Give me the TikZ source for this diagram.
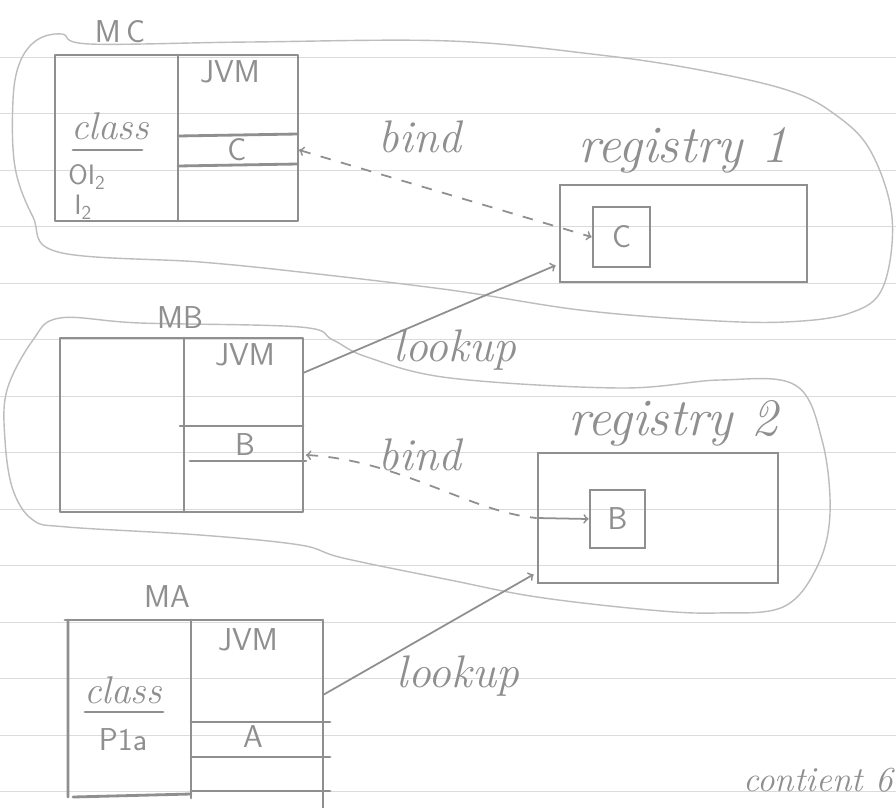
\documentclass[tikz,border=0pt]{standalone}
\usetikzlibrary{arrows,calc}
\definecolor{PencilClr}{rgb}{0.56,0.56,0.56}
\definecolor{BlobClr}{rgb}{0.74,0.74,0.74}
\definecolor{RuleClr}{rgb}{0.86,0.86,0.86}

\begin{document}
\begin{tikzpicture}[x=0.02cm,y=-0.02cm,>=to,
  pencil/.style={line width=1.6pt,color=PencilClr,line cap=round,line join=round},
  blob/.style={line width=0.8pt,color=BlobClr},
  rule/.style={line width=0.4pt,color=RuleClr},
  hand/.style={text=PencilClr,inner sep=0pt,font=\fontsize{26}{28}\selectfont\itshape},
  caps/.style={text=PencilClr,inner sep=0pt,font=\fontsize{18}{20}\selectfont\sffamily},
  regbox/.style={draw=PencilClr,line width=1.6pt,inner sep=0pt},
  slot/.style={regbox,text=PencilClr,font=\fontsize{18}{20}\selectfont\sffamily},
  link/.style={line width=1pt,color=PencilClr},
  bindlink/.style={link,dash pattern=on 6pt off 6pt}]

\fill[white] (0,0) rectangle (896,808);
\useasboundingbox (0,0) rectangle (896,808);

% ruled paper
\foreach \k in {0,...,13}
  \draw[rule] (0,{57+56.5*\k}) -- (896,{57+56.5*\k});

% blobs
\draw[blob] plot[smooth cycle,tension=0.6] coordinates {
  (62,34) (37,40) (20,62) (13,100) (15,167) (33,217) (58,252) (200,262)
  (300,272) (450,290) (580,310) (700,320) (785,322) (850,313) (883,287)
  (892,217) (870,150) (833,113) (787,90) (700,70) (600,55) (450,41) (250,42) (90,44)};
\draw[blob] plot[smooth cycle,tension=0.6] coordinates {
  (60,318) (140,323) (300,327) (333,340) (367,357) (450,378) (620,388)
  (720,380) (795,385) (822,440) (830,513) (817,567) (783,607) (717,613)
  (650,610) (537,597) (450,580) (343,558) (300,545) (200,535) (67,527)
  (33,520) (13,490) (5,440) (7,390) (33,340)};

% machine MC
\node[caps] (mcName) at (120,32) {M\,C};
\draw[pencil] (55,55) rectangle (298,221);
\draw[pencil] (178,55) -- (178,221);
\draw[pencil] (178,136) -- (298,134) (178,166) -- (298,164);
\node[caps] (mcJVM) at (230,72) {JVM};
\node[hand,font=\fontsize{22}{24}\selectfont\itshape] (mcClass) at (110,126) {class};
\draw[pencil] (73,150) -- (142,150);
\node[caps,anchor=west,font=\fontsize{16}{18}\selectfont\sffamily] (mcOI) at (68,177) {OI\textsubscript{2}};
\node[caps,anchor=west,font=\fontsize{16}{18}\selectfont\sffamily] (mcI) at (74,207) {I\textsubscript{2}};
\node[caps] (mcSlot) at (237,150) {C};
\coordinate (mcC) at (299,150);

% machine MB
\node[caps] (mbName) at (180,318) {MB};
\draw[pencil] (60,338) rectangle (303,512);
\draw[pencil] (184,338) -- (184,512);
\draw[pencil] (180,426) -- (303,426) (190,461) -- (306,461);
\node[caps] (mbJVMlbl) at (245,355) {JVM};
\node[caps] (mbSlot) at (245,445) {B};
\coordinate (mbJVM) at (303,373);
\coordinate (mbB) at (306,455);

% machine MA
\node[caps] (maName) at (167,597) {MA};
\draw[pencil] (65,620) -- (322,620);
\draw[pencil] (68,620) -- (68,797) (73,797) -- (191,794);
\draw[pencil] (191,620) -- (191,798);
\draw[pencil] (323,620) -- (323,808);
\foreach \y in {722,757,791}
  \draw[pencil] (191,\y) -- (330,\y);
\node[caps] (maJVMlbl) at (248,640) {JVM};
\node[hand,font=\fontsize{22}{24}\selectfont\itshape] (maClass) at (123,690) {class};
\draw[pencil] (85,712) -- (163,712);
\node[caps] (maP) at (123,740) {P1a};
\node[caps] (maSlot) at (253,737) {A};
\coordinate (maJVM) at (323,695);

% registries
\node[regbox,minimum width=4.94cm,minimum height=1.94cm] (reg1) at (683.5,233.5) {};
\node[hand,font=\fontsize{30}{32}\selectfont\itshape] (reg1lbl) at (683,150) {registry 1};
\node[slot,minimum width=1.14cm,minimum height=1.2cm] (regC) at (621.5,237) {C};

\node[regbox,minimum width=4.8cm,minimum height=2.6cm] (reg2) at (658,518) {};
\node[hand,font=\fontsize{30}{32}\selectfont\itshape] (reg2lbl) at (673,423) {registry 2};
\node[slot,minimum width=1.1cm,minimum height=1.16cm] (regB) at (617.5,519) {B};

% bind / lookup
\draw[bindlink,<->] (mcC) -- (regC.west);
\node[hand] (bindC) at (420,137) {bind};

\draw[link,->] (mbJVM) -- ($(reg1.south west)+(-3,-18)$);
\node[hand] (lookupB) at (455,350) {lookup};

\draw[bindlink,<-] (mbB) .. controls (400,460) and (470,512) .. (reg2.west);
\draw[link,->] (reg2.west) -- (regB.west);
\node[hand] (bindB) at (420,455) {bind};

\draw[link,->] (maJVM) -- ($(reg2.south west)+(-3,-10)$);
\node[hand] (lookupA) at (458,676) {lookup};

\node[hand,anchor=east,font=\fontsize{20}{22}\selectfont\itshape] (note) at (893,780) {contient 6};

\end{tikzpicture}
\end{document}
